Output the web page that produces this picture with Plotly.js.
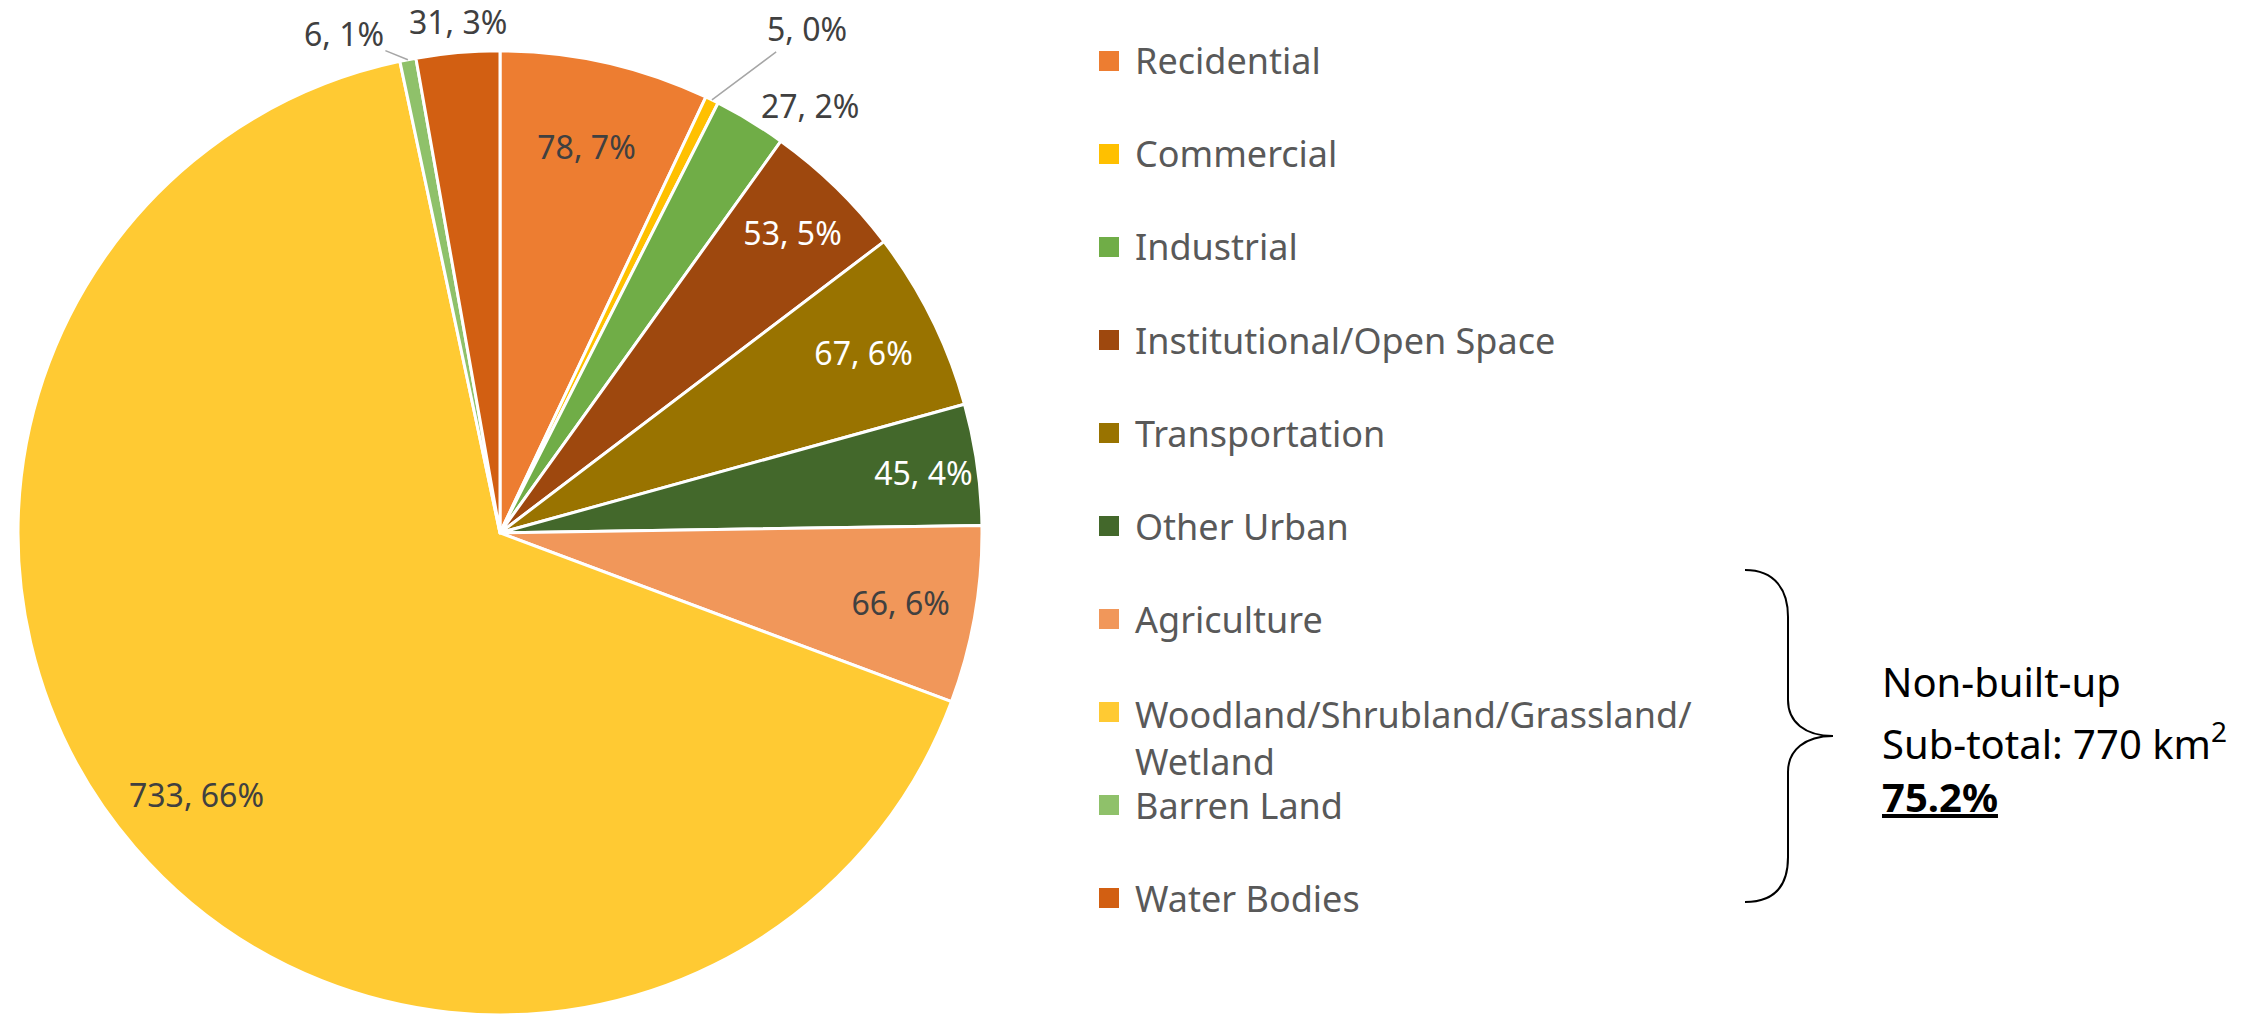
<!DOCTYPE html>
<html>
<head>
<meta charset="utf-8">
<script src="https://cdn.plot.ly/plotly-3.0.1.min.js"></script>
<style>
  html, body { margin: 0; padding: 0; background: #ffffff; }
  #chart { width: 2267px; height: 1015px; }
</style>
</head>
<body>
<div id="chart"></div>
<script>
// ---- Data ----
const categories = [
  'Recidential', 'Commercial', 'Industrial', 'Institutional/Open Space',
  'Transportation', 'Other Urban', 'Agriculture',
  'Woodland/Shrubland/Grassland/Wetland', 'Barren Land', 'Water Bodies'
];
const areas = [78, 5, 27, 53, 67, 45, 66, 733, 6, 31];
const sliceColors = [
  '#ED7D31', '#FFC000', '#70AD47', '#9E480E', '#997300',
  '#43682B', '#F1975A', '#FFCA33', '#8FC16A', '#D25F12'
];
const labelColors = [
  '#404040', '#404040', '#404040', '#FFFFFF', '#FFFFFF',
  '#FFFFFF', '#404040', '#404040', '#404040', '#404040'
];
// 'callout' = label placed from the slice geometry (with leader line where needed)
const labelPlacement = [
  'inside', 'callout', 'outside', 'inside', 'inside',
  'inside', 'inside', 'callout', 'callout', 'callout'
];
const legendText = [
  'Recidential', 'Commercial', 'Industrial', 'Institutional/Open Space',
  'Transportation', 'Other Urban', 'Agriculture',
  'Woodland/Shrubland/Grassland/<br>Wetland', 'Barren Land', 'Water Bodies'
];
const noteLines = ['Non-built-up', 'Sub-total: 770 km<sup>2</sup>', '<b><u>75.2%</u></b>'];

// ---- Layout helpers ----
const W = 2267, H = 1015;
const FONT = 'Noto Sans, Open Sans, sans-serif';
const px = p => p / W;
const py = p => 1 - p / H;

// pie geometry (pixels)
const pieLeft = 18, pieRight = 982, pieTopFrac = 0.95;
const cx = (pieLeft + pieRight) / 2;
const r = Math.min(pieRight - pieLeft, pieTopFrac * H) / 2;
const cy = H - pieTopFrac * H / 2;

// callout label placement: radial fraction along slice bisector + pixel offset
const calloutStyle = {
  1: { rf: 1, ax: 95, ay: -71, leader: true },
  7: { rf: 0.83, ax: 0, ay: 0, leader: false },
  8: { rf: 1, ax: -64, ay: -26, leader: true },
  9: { rf: 1, ax: 0, ay: -31, leader: false }
};

const pie = {
  type: 'pie',
  labels: categories,
  values: areas,
  sort: false,
  direction: 'clockwise',
  rotation: 0,
  marker: { colors: sliceColors, line: { color: '#FFFFFF', width: 3 } },
  texttemplate: '%{value}, %{percent:.0%}',
  textposition: labelPlacement.map(p => p === 'callout' ? 'none' : p),
  insidetextorientation: 'horizontal',
  textfont: { family: FONT, size: 32, color: labelColors },
  outsidetextfont: { family: FONT, size: 32, color: '#404040' },
  showlegend: false,
  hoverinfo: 'label+value+percent',
  domain: { x: [px(pieLeft), px(pieRight)], y: [0, pieTopFrac] }
};

const shapes = [];
const annotations = [];

// callout labels, positioned from the slice geometry
const total = areas.reduce((a, b) => a + b, 0);
let cum = 0;
areas.forEach((v, i) => {
  if (labelPlacement[i] === 'callout') {
    const st = calloutStyle[i];
    const ang = (cum + v / 2) / total * 2 * Math.PI;
    const ex = cx + st.rf * r * Math.sin(ang);
    const ey = cy - st.rf * r * Math.cos(ang);
    const text = v + ', ' + Math.round(v / total * 100) + '%';
    const font = { family: FONT, size: 32, color: labelColors[i] };
    if (st.leader) {
      annotations.push({
        xref: 'paper', yref: 'paper', x: px(ex), y: py(ey), text: text,
        showarrow: true, arrowhead: 0, arrowwidth: 1.5, arrowcolor: '#A6A6A6',
        ax: st.ax, ay: st.ay, standoff: 0, font: font
      });
    } else {
      annotations.push({
        xref: 'paper', yref: 'paper', x: px(ex + st.ax), y: py(ey + st.ay),
        xanchor: 'center', yanchor: 'middle', text: text,
        showarrow: false, font: font
      });
    }
  }
  cum += v;
});

// Legend (built from categories / colors)
const legX = 1099, legTextX = 1133, legY0 = 61, legStep = 93, sym = 20;
legendText.forEach((t, i) => {
  const yc = legY0 + i * legStep;
  shapes.push({
    type: 'rect', xref: 'paper', yref: 'paper',
    x0: px(legX), x1: px(legX + sym), y0: py(yc + sym / 2), y1: py(yc - sym / 2),
    fillcolor: sliceColors[i], line: { width: 0 }
  });
  const multi = t.indexOf('<br>') >= 0;
  annotations.push({
    xref: 'paper', yref: 'paper', x: px(legTextX), y: multi ? py(yc - 24) : py(yc),
    xanchor: 'left', yanchor: multi ? 'top' : 'middle', align: 'left',
    text: t, showarrow: false,
    font: { family: FONT, size: 36, color: '#595959' }
  });
});

// Brace
const brace = [
  [1745, 570], [1775, 570], [1788, 590], [1788, 617], [1788, 700],
  [1788, 722], [1805, 736], [1833, 736], [1805, 736], [1788, 750],
  [1788, 772], [1788, 857], [1788, 885], [1775, 902], [1745, 902]
].map(p => px(p[0]).toFixed(5) + ',' + py(p[1]).toFixed(5));
shapes.push({
  type: 'path', xref: 'paper', yref: 'paper',
  path: 'M' + brace[0] + ' C' + brace[1] + ' ' + brace[2] + ' ' + brace[3] +
        ' L' + brace[4] + ' C' + brace[5] + ' ' + brace[6] + ' ' + brace[7] +
        ' C' + brace[8] + ' ' + brace[9] + ' ' + brace[10] +
        ' L' + brace[11] + ' C' + brace[12] + ' ' + brace[13] + ' ' + brace[14],
  line: { color: '#000000', width: 2 }
});

// Note text
const noteY = [681, 741, 796];
noteLines.forEach((t, i) => {
  annotations.push({
    xref: 'paper', yref: 'paper', x: px(1880), y: py(noteY[i]),
    xanchor: 'left', yanchor: 'middle', align: 'left',
    text: t, showarrow: false,
    font: { family: FONT, size: 40, color: '#000000' }
  });
});

const layout = {
  width: W, height: H,
  margin: { l: 0, r: 0, t: 0, b: 0, pad: 0 },
  paper_bgcolor: '#FFFFFF',
  plot_bgcolor: '#FFFFFF',
  showlegend: false,
  shapes: shapes,
  annotations: annotations,
  font: { family: FONT }
};

Plotly.newPlot('chart', [pie], layout, { displayModeBar: false, staticPlot: true });
</script>
</body>
</html>
